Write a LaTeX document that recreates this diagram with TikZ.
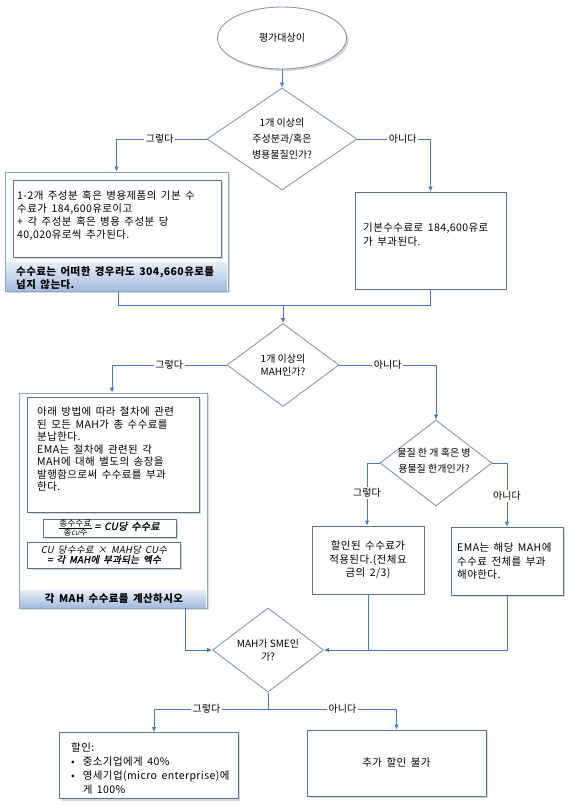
\documentclass[tikz,border=0pt]{standalone}
\usepackage{fontspec}
\setmainfont{Noto Sans CJK KR}
\newfontfamily\krsl[FakeSlant=0.2]{Noto Sans CJK KR}
\newfontfamily\krbsl[FakeSlant=0.2,FakeBold=1.5]{Noto Sans CJK KR}
\newcommand{\bxf}[2]{\fontsize{#1}{#2}\selectfont\addfontfeature{LetterSpace=4}\spaceskip=4.5pt plus 1pt minus 1pt\relax}
\usetikzlibrary{shapes.geometric,arrows.meta,shadows,calc}
\definecolor{cblue}{HTML}{4A78C2}
\definecolor{bord}{HTML}{5E7090}
\definecolor{dbord}{HTML}{8A98AE}
\definecolor{gbord}{HTML}{8FA6C6}
\definecolor{bartop}{HTML}{E8EEF7}
\definecolor{barbot}{HTML}{A6BDDF}
\tikzset{
  conn/.style={draw=cblue, line width=0.8pt},
  arr/.style={conn, -{Latex[length=5pt,width=4.5pt]}},
  shad/.style={drop shadow={shadow xshift=2pt, shadow yshift=-2pt, fill=black!35, opacity=0.45}},
  rbox/.style={draw=bord, line width=0.7pt, fill=white, rectangle, inner sep=0pt},
  gbox/.style={draw=gbord, line width=0.9pt, fill=white, rectangle, inner sep=0pt},
  barbox/.style={rectangle, inner sep=0pt, top color=bartop, bottom color=barbot},
  dia/.style={diamond, draw=dbord, line width=0.9pt, fill=white, inner sep=0pt, align=center,
     font=\fontsize{10pt}{13pt}\selectfont},
  lbl/.style={fill=white, inner sep=1.5pt, font=\fontsize{10pt}{12pt}\selectfont},
  txt/.style={inner sep=0pt, align=left, font=\bxf{10.5pt}{13.2pt}},
}
\begin{document}
\begin{tikzpicture}[x=1pt,y=-1pt]
\useasboundingbox (0,0) rectangle (574,805);

% start
\node[ellipse, draw=dbord, line width=0.9pt, fill=white, shad, minimum width=129pt, minimum height=62pt,
  font=\fontsize{10pt}{12pt}\selectfont] (start) at (282,38) {평가대상이};

% decision 1
\node[dia, minimum width=150pt, minimum height=102pt, font=\fontsize{10pt}{16pt}\selectfont] (d1) at (282,139)
  {1개 이상의\\주성분과/혹은\\병용물질인가?};

% left box group 1
\node[gbox, shad, minimum width=223pt, minimum height=119pt] (b1) at (116.5,231.5) {};
\node[rbox, shad, minimum width=208pt, minimum height=77pt] (b1in) at (117,218.5) {};
\node[txt, anchor=west] (b1t) at (17,215.5)
  {1-2개 주성분 혹은 병용제품의 기본 수\\수료가 184,600유로이고\\+ 각 주성분 혹은 병용 주성분 당\\40,020유로씩 추가된다.};
\node[barbox, minimum width=221pt, minimum height=28pt] (b1bar) at (116.5,276) {};
\node[txt, anchor=west, font=\bfseries\bxf{10.5pt}{12.5pt}] (b1bt) at (16,278)
  {수수료는 어떠한 경우라도 304,660유로를\\넘지 않는다.};

% right box 1
\node[rbox, minimum width=151pt, minimum height=97pt] (b2) at (430.5,240.5) {};
\node[txt, anchor=west] (b2t) at (363,234.5) {기본수수료로 184,600유로\\가 부과된다.};

% decision 2
\node[dia, minimum width=112pt, minimum height=83pt] (d2) at (283,365) {1개 이상의\\MAH인가?};

% left box group 2
\node[gbox, shad, minimum width=188pt, minimum height=215pt] (b3) at (113,500.5) {};
\node[rbox, shad, minimum width=172pt, minimum height=115pt] (b3in) at (113,454.5) {};
\node[txt, anchor=west, font=\bxf{10.5pt}{12.5pt}] (b3t) at (37,449.5)
  {아래 방법에 따라 절차에 관련\\된 모든 MAH가 총 수수료를\\분납한다.\\EMA는 절차에 관련된 각\\MAH에 대해 별도의 송장을\\발행함으로써 수수료를 부과\\한다.};
\node[rbox, shad, minimum width=133pt, minimum height=18pt] (f1) at (109.5,528) {};
\node[inner sep=0pt] (f1t) at (109.5,528)
  {\renewcommand{\arraystretch}{0.68}\fontsize{8.5pt}{8.5pt}\selectfont\addfontfeature{LetterSpace=3}%
   \begin{tabular}{@{}c@{}}총수수료\\\hline 총{\krsl\fontsize{6pt}{6pt}\selectfont CU}수\end{tabular}\hspace{3pt}{\krbsl\fontsize{10pt}{11pt}\selectfont\addfontfeature{LetterSpace=3}\spaceskip=4pt\relax = CU당 수수료}};
\node[rbox, shad, minimum width=153pt, minimum height=26pt] (f2) at (103.5,555) {};
\node[inner sep=0pt, align=center, font=\fontsize{9.5pt}{10pt}\selectfont] (f2t) at (104,554.5)
  {{\krsl\addfontfeature{LetterSpace=3}\spaceskip=4pt\relax CU 당수수료 × MAH당 CU수}\\{\krbsl\addfontfeature{LetterSpace=3}\spaceskip=4pt\relax = 각 MAH에 부과되는 액수}};
\node[barbox, minimum width=186pt, minimum height=17pt] (b3bar) at (113,598.5) {};
\node[inner sep=0pt, font=\bfseries\bxf{10.5pt}{12pt}] (b3bt) at (114,599) {각 MAH 수수료를 계산하시오};

% decision 3
\node[dia, minimum width=112pt, minimum height=86pt] (d3) at (436,463) {};
\node[inner sep=0pt, align=center, font=\fontsize{10pt}{16pt}\selectfont] (d3t) at (434,461) {물질 한 개 혹은 병\\용물질 한개인가?};

% boxes 4, 5
\node[rbox, minimum width=112pt, minimum height=68pt, align=center, font=\bxf{10.5pt}{13.5pt}] (b4) at (368,560)
  {할인된 수수료가\\적용된다.(전체요\\금의 2/3)};
\node[rbox, shad, minimum width=112pt, minimum height=68pt] (b5) at (507,561) {};
\node[txt, anchor=west, font=\bxf{10.5pt}{13.5pt}] (b5t) at (457,561.5)
  {EMA는 해당 MAH에\\수수료 전체를 부과\\해야한다.};

% decision 4
\node[dia, minimum width=111pt, minimum height=81pt] (d4) at (268,650) {MAH가 SME인\\가?};

% bottom boxes
\node[rbox, shad, minimum width=179pt, minimum height=66pt] (b6) at (148.5,765.5) {};
\node[inner sep=0pt, anchor=west, font=\bxf{10.5pt}{14pt}] (b6t) at (71,769.5)
  {\renewcommand{\arraystretch}{1}\begin{tabular}{@{}l@{\hspace{8pt}}l@{}}\multicolumn{2}{@{}l}{할인:}\\•&중소기업에게 40\%\\•&영세기업(micro enterprise)에\\&게 100\%\end{tabular}};
\node[rbox, shad, minimum width=179pt, minimum height=66pt, font=\bxf{10.5pt}{12pt}] (b7) at (396.5,763) {추가 할인 불가};

% connectors
\draw[arr] (start) -- (d1);
\draw[arr] (d1.west) -| node[lbl, pos=0.26] {그렇다} (b1.north);
\draw[arr] (d1.east) -| node[lbl, pos=0.31] {아니다} (b2.north);
\coordinate (j1) at (283,305);
\draw[conn] ([xshift=1.5pt]b1.south) |- (j1);
\draw[conn] (b2.south) |- (j1);
\draw[arr] (j1) -- (d2.north);
\draw[arr] (d2.west) -| node[lbl, pos=0.25] {그렇다} ([xshift=-1pt]b3.north);
\draw[arr] (d2.east) -| node[lbl, pos=0.25] {아니다} (d3.north);
\draw[arr] (d3.west) -| node[lbl, pos=0.74] {그렇다} ([xshift=-1pt]b4.north);
\draw[arr] (d3.east) -| node[lbl, pos=0.76] {아니다} (b5.north);
\draw[arr] (b5.south) |- (d4.east);
\draw[conn] (b4.south) -- (b4.south |- d4.east);
\draw[arr] ([xshift=-22pt]b3.south east) |- (d4.west);
\coordinate (j2) at (268,709);
\draw[conn] (d4.south) -- (j2);
\draw[arr] (j2) -| node[lbl, pos=0.27] {그렇다} ([xshift=5.5pt]b6.north);
\draw[arr] (j2) -| node[lbl, pos=0.29] {아니다} (b7.north);
\end{tikzpicture}
\end{document}
